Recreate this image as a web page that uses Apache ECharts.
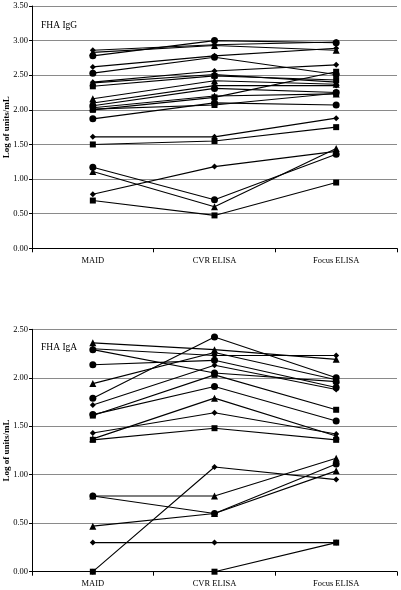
<!DOCTYPE html>
<html>
<head>
<meta charset="utf-8">
<script src="https://cdn.jsdelivr.net/npm/echarts@6/dist/echarts.min.js"></script>
<style>
html,body{margin:0;padding:0;background:#fff;}
#c{width:401px;height:590px;}
</style>
</head>
<body>
<div id="c"></div>
<script>
const categories = ['MAID', 'CVR ELISA', 'Focus ELISA'];
const yTicksIgG = [0, 0.5, 1, 1.5, 2, 2.5, 3, 3.5];
const yTicksIgA = [0, 0.5, 1, 1.5, 2, 2.5];

// FHA IgG (one entry per subject)
const iggMarker = ['diamond','circle','triangle','diamond','circle','diamond','triangle','rect','triangle','diamond','circle','triangle','rect','circle','rect','diamond','rect','circle','triangle','diamond','rect'];
const iggMAID  = [2.86, 2.78, 2.83, 2.62, 2.53, 2.40, 2.39, 2.34, 2.16, 2.10, 2.06, 2.03, 2.00, 1.87, 2.01, 1.61, 1.50, 1.17, 1.11, 0.78, 0.69];
const iggCVR   = [2.94, 3.00, 2.93, 2.78, 2.76, 2.56, 2.51, 2.49, 2.42, 2.35, 2.31, 2.20, 2.18, 2.10, 2.07, 1.61, 1.55, 0.70, 0.60, 1.18, 0.475];
const iggFocus = [2.98, 2.97, 2.86, 2.89, 2.51, 2.65, 2.40, 2.43, 2.37, 2.35, 2.25, 2.23, 2.55, 2.07, 2.24, 1.88, 1.75, 1.36, 1.44, 1.40, 0.95];

// FHA IgA (one entry per subject)
const igaMarker = ['triangle','diamond','circle','circle','triangle','circle','diamond','rect','circle','diamond','triangle','rect','triangle','circle','triangle','diamond','diamond','rect'];
const igaMAID  = [2.36, 2.30, 2.29, 2.135, 1.94, 1.79, 1.72, 1.61, 1.62, 1.43, 1.37, 1.36, 0.78, 0.78, 0.47, 0.30, 0.00, 0.00];
const igaCVR   = [2.29, 2.23, 2.05, 2.18, 2.26, 2.42, 2.13, 2.03, 1.91, 1.64, 1.79, 1.48, 0.78, 0.60, 0.60, 0.30, 1.08, 0.00];
const igaFocus = [2.19, 2.23, 1.96, 1.90, 1.98, 2.00, 1.88, 1.67, 1.555, 1.42, 1.40, 1.36, 1.17, 1.11, 1.04, 0.30, 0.95, 0.30];

const symSize = {diamond: 6, circle: 7, triangle: 7, rect: 6};
const serif = '"Liberation Serif", "DejaVu Serif", serif';

function makeSeries(markers, a, b, c, idx) {
  return markers.map((m, i) => ({
    type: 'line',
    xAxisIndex: idx, yAxisIndex: idx,
    data: [a[i], b[i], c[i]],
    symbol: m,
    symbolSize: symSize[m],
    showSymbol: true,
    lineStyle: {color: '#000', width: 1.1},
    itemStyle: {color: '#000', borderWidth: 0},
    emphasis: {disabled: true},
    animation: false,
    z: 3
  }));
}

function xAxisDef(idx) {
  return {
    type: 'category', gridIndex: idx, data: categories, boundaryGap: true,
    axisLine: {lineStyle: {color: '#000', width: 1}},
    axisTick: {show: true, length: 4, lineStyle: {color: '#000'}},
    axisLabel: {color: '#000', fontFamily: serif, fontSize: 8.5, margin: 8},
    splitLine: {show: false}
  };
}
function yAxisDef(idx, ticks) {
  return {
    type: 'value', gridIndex: idx,
    min: ticks[0], max: ticks[ticks.length - 1], interval: ticks[1] - ticks[0],
    name: 'Log of units/mL', nameLocation: 'middle', nameGap: 21, nameMoveOverlap: false,
    nameTextStyle: {fontFamily: serif, fontWeight: 'bold', fontSize: 9, color: '#000'},
    axisLine: {show: true, lineStyle: {color: '#000', width: 1}},
    axisTick: {show: true, length: 3, lineStyle: {color: '#000'}},
    axisLabel: {color: '#000', fontFamily: serif, fontSize: 8.5, margin: 4, formatter: v => v.toFixed(2)},
    splitLine: {show: true, lineStyle: {color: '#8a8a8a', width: 1}}
  };
}

const chart = echarts.init(document.getElementById('c'), null, {renderer: 'canvas'});
chart.setOption({
  backgroundColor: '#fff',
  animation: false,
  title: [
    {text: 'FHA IgG', left: 36, top: 15, textStyle: {fontFamily: serif, fontSize: 9.5, fontWeight: 'normal', color: '#000'}},
    {text: 'FHA IgA', left: 36, top: 337, textStyle: {fontFamily: serif, fontSize: 9.5, fontWeight: 'normal', color: '#000'}}
  ],
  grid: [
    {left: 32, top: 6, width: 365, height: 242.3, outerBoundsMode: 'none', containLabel: false},
    {left: 32, top: 329.3, width: 365, height: 242.4, outerBoundsMode: 'none', containLabel: false}
  ],
  xAxis: [xAxisDef(0), xAxisDef(1)],
  yAxis: [yAxisDef(0, yTicksIgG), yAxisDef(1, yTicksIgA)],
  series: makeSeries(iggMarker, iggMAID, iggCVR, iggFocus, 0)
    .concat(makeSeries(igaMarker, igaMAID, igaCVR, igaFocus, 1))
});
</script>
</body>
</html>
